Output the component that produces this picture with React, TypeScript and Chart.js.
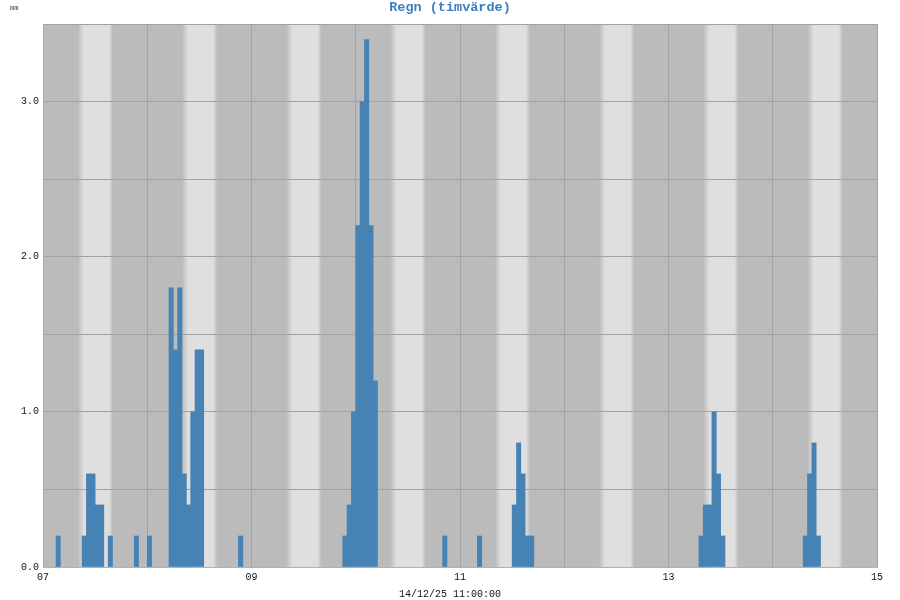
import React, { useEffect, useRef } from "react";
import { Chart, registerables } from "chart.js";

Chart.register(...registerables);

// Hour offsets from 07 00:00 (start of each one-hour bar) and the rain in mm for that hour
const rainHours = [3, 9, 10, 11, 12, 13, 15, 21, 24, 29, 30, 31, 32, 33, 34, 35, 36, 45, 69, 70, 71, 72, 73, 74, 75, 76, 92, 100, 108, 109, 110, 111, 112, 151, 152, 153, 154, 155, 156, 175, 176, 177, 178];
const rainMm = [0.2, 0.2, 0.6, 0.6, 0.4, 0.4, 0.2, 0.2, 0.2, 1.8, 1.4, 1.8, 0.6, 0.4, 1.0, 1.4, 1.4, 0.2, 0.2, 0.4, 1.0, 2.2, 3.0, 3.4, 2.2, 1.2, 0.2, 0.2, 0.4, 0.8, 0.6, 0.2, 0.2, 0.2, 0.4, 0.4, 1.0, 0.6, 0.2, 0.2, 0.6, 0.8, 0.2];

// Day tick labels (one per day boundary, only odd days shown)
const dayTickLabels = ["07", "", "09", "", "11", "", "13", "", "15"];
const dayCount = 8;

// Daylight (hours of day): dawn starts, full light, dusk starts, dark
const dawnStart = 8.0;
const dayStart = 9.4;
const duskStart = 15.2;
const nightStart = 16.1;

const titleText = "Regn (timvärde)";
const unitText = "mm";
const xTitleText = "14/12/25 11:00:00";

const DARK = "#bbbbbb";
const LIGHT = "#dfdfdf";

const backgroundPlugin = {
  id: "dayNightBackground",
  beforeDraw(chart: any) {
    const { ctx, chartArea } = chart;
    const xs = chart.scales.x;
    ctx.save();
    ctx.fillStyle = DARK;
    ctx.fillRect(chartArea.left, chartArea.top, chartArea.right - chartArea.left, chartArea.bottom - chartArea.top);
    for (let d = 0; d < dayCount; d++) {
      const x0 = xs.getPixelForValue(d * 24 + dawnStart);
      const x1 = xs.getPixelForValue(d * 24 + dayStart);
      const x2 = xs.getPixelForValue(d * 24 + duskStart);
      const x3 = xs.getPixelForValue(d * 24 + nightStart);
      const g = ctx.createLinearGradient(x0, 0, x3, 0);
      const w = x3 - x0;
      g.addColorStop(0, DARK);
      g.addColorStop((x1 - x0) / w, LIGHT);
      g.addColorStop((x2 - x0) / w, LIGHT);
      g.addColorStop(1, DARK);
      ctx.fillStyle = g;
      ctx.fillRect(x0, chartArea.top, w, chartArea.bottom - chartArea.top);
    }
    ctx.restore();
  },
};

const textPlugin = {
  id: "texts",
  afterDraw(chart: any) {
    const { ctx } = chart;
    ctx.save();
    ctx.textBaseline = "middle";
    ctx.textAlign = "center";
    ctx.fillStyle = "#3a7fc0";
    ctx.font = "bold 13.5px 'Liberation Mono', monospace";
    ctx.fillText(titleText, 450, 8);
    ctx.textAlign = "left";
    ctx.fillStyle = "#333333";
    ctx.font = "7px 'DejaVu Sans Mono', monospace";
    ctx.fillText(unitText, 10, 8);
    ctx.textAlign = "center";
    ctx.fillStyle = "#111111";
    ctx.font = "10px 'Liberation Mono', monospace";
    ctx.fillText(xTitleText, 450, 594);
    ctx.restore();
  },
};

export default function App() {
  const ref = useRef<HTMLCanvasElement>(null);
  useEffect(() => {
    document.body.style.margin = "0";
    const canvas = ref.current;
    if (!canvas) return;
    const chart = new Chart(canvas, {
      type: "bar",
      data: {
        datasets: [
          {
            label: "Regn",
            data: rainHours.map((h, i) => ({ x: h + 0.5, y: rainMm[i] })),
            backgroundColor: "#4682b4",
            borderWidth: 0,
            barPercentage: 1,
            categoryPercentage: 1,
          },
        ],
      },
      options: {
        animation: false,
        responsive: false,
        maintainAspectRatio: false,
        layout: { padding: { top: 24, right: 23, left: 0, bottom: 0 } },
        plugins: {
          legend: { display: false },
          title: { display: false },
          tooltip: { enabled: false },
        },
        scales: {
          x: {
            type: "linear",
            min: 0,
            max: dayCount * 24,
            offset: false,
            afterFit(scale: any) {
              scale.height = 33;
            },
            ticks: {
              stepSize: 24,
              autoSkip: false,
              maxRotation: 0,
              padding: 4,
              color: "#111111",
              font: { family: "'Liberation Mono', monospace", size: 10 },
              callback: (v: any) => {
                const idx = Math.round(Number(v) / 24);
                return dayTickLabels[idx] ?? "";
              },
            },
            grid: { color: "#a2a2a2", lineWidth: 1, drawTicks: false, offset: false },
            border: { color: "#a6b4c2", width: 1 },
          },
          y: {
            min: 0,
            max: 3.5,
            afterFit(scale: any) {
              scale.width = 43;
            },
            ticks: {
              stepSize: 0.5,
              padding: 4,
              color: "#111111",
              font: { family: "'Liberation Mono', monospace", size: 10 },
              callback: (v: any) => {
                const n = Number(v);
                return Math.abs(n - Math.round(n)) < 1e-6 && n < 3.5 ? n.toFixed(1) : "";
              },
            },
            grid: { color: "#a2a2a2", lineWidth: 1, drawTicks: false },
            border: { color: "#aaaaaa", width: 1 },
          },
        },
      },
      plugins: [backgroundPlugin, textPlugin],
    });
    return () => chart.destroy();
  }, []);
  return (
    <div style={{ width: 900, height: 600 }}>
      <canvas ref={ref} width={900} height={600} style={{ display: "block" }} />
    </div>
  );
}
